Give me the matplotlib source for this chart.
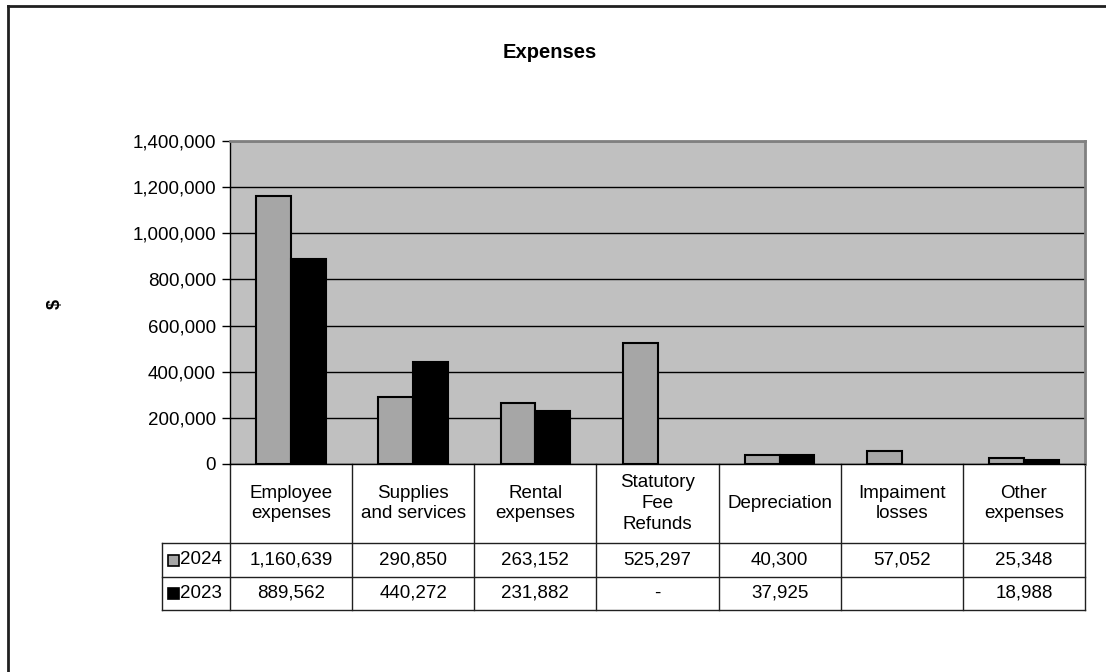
import numpy as np
import matplotlib
matplotlib.use("Agg")
import matplotlib.pyplot as plt
from matplotlib.patches import Rectangle
from matplotlib.lines import Line2D
from matplotlib.transforms import blended_transform_factory
from matplotlib.ticker import FuncFormatter

plt.rcParams['font.family'] = ['Liberation Sans', 'DejaVu Sans']

categories = ["Employee\nexpenses", "Supplies\nand services", "Rental\nexpenses",
              "Statutory\nFee\nRefunds", "Depreciation", "Impaiment\nlosses", "Other\nexpenses"]
series_names = ["2024", "2023"]
values_2024 = [1160639, 290850, 263152, 525297, 40300, 57052, 25348]
values_2023 = [889562, 440272, 231882, 0, 37925, np.nan, 18988]
yticks = [0, 200000, 400000, 600000, 800000, 1000000, 1200000, 1400000]
title = "Expenses"
ylabel = "$"

W, H = 1106, 672
fig = plt.figure(figsize=(W / 100, H / 100), dpi=100)
fig.patch.set_facecolor('white')

L, R, T, B = 230, 1085, 141, 464
ax = fig.add_axes([L / W, 1 - B / H, (R - L) / W, (B - T) / H])
ax.set_facecolor('#C0C0C0')
ax.set_axisbelow(True)

x = np.arange(len(categories))
bw = 0.285
c2024 = '#A6A6A6'
c2023 = '#000000'
b1 = ax.bar(x - bw / 2, values_2024, bw, color=c2024, edgecolor='black', linewidth=1.5, zorder=3)
b2 = ax.bar(x + bw / 2, values_2023, bw, color=c2023, edgecolor='black', linewidth=1.5, zorder=3)
for p in list(b1.patches) + list(b2.patches):
    h = p.get_height()
    if not np.isfinite(h) or h == 0:
        p.set_visible(False)

ax.set_xlim(-0.5, len(categories) - 0.5)
ax.set_ylim(0, 1400000)
ax.set_yticks(yticks)
ax.yaxis.set_major_formatter(FuncFormatter(lambda v, p: f"{int(v):,}"))
ax.tick_params(axis='y', length=6, width=1, pad=4, labelsize=13.5, colors='black')
ax.set_xticks([])
ax.grid(axis='y', color='black', linewidth=1, zorder=1)
for s in ['top', 'right']:
    ax.spines[s].set_color('#808080')
    ax.spines[s].set_linewidth(2)
ax.spines['left'].set_color('black')
ax.spines['left'].set_linewidth(1)
ax.spines['bottom'].set_color('black')
ax.spines['bottom'].set_linewidth(1)

# Title and y label
fig.text(550 / W, 1 - 52 / H, title, ha='center', va='center', fontsize=14.5, fontweight='bold')
fig.text(55 / W, 1 - 304 / H, ylabel, ha='center', va='center', fontsize=13, fontweight='bold', rotation=90)

# Outer border (left and top)
fig.add_artist(Line2D([8 / W, 8 / W], [0, 1 - 6 / H], color='#202020', lw=2, transform=fig.transFigure))
fig.add_artist(Line2D([8 / W, 1], [1 - 6 / H, 1 - 6 / H], color='#202020', lw=2, transform=fig.transFigure))

# Data table
tr = blended_transform_factory(ax.transData, fig.transFigure)
def fy(py):
    return 1 - py / H

y_head_top, y_head_bot, y_r1_bot, y_r2_bot = 464, 543, 577, 610
lc = '#202020'
n = len(categories)
for i in range(n + 1):
    xb = i - 0.5
    ax.add_line(Line2D([xb, xb], [fy(y_head_top), fy(y_r2_bot)], color=lc, lw=1,
                       transform=tr, clip_on=False))
leg_left = 162
for py in [y_head_bot, y_r1_bot, y_r2_bot]:
    fig.add_artist(Line2D([leg_left / W, R / W], [fy(py), fy(py)], color=lc, lw=1,
                          transform=fig.transFigure))
fig.add_artist(Line2D([leg_left / W, leg_left / W], [fy(y_head_bot), fy(y_r2_bot)], color=lc, lw=1,
                      transform=fig.transFigure))

def fmt(v):
    if v is None or (isinstance(v, float) and np.isnan(v)):
        return ""
    if v == 0:
        return "-"
    return f"{int(v):,}"

for i, cat in enumerate(categories):
    ax.text(i, fy((y_head_top + y_head_bot) / 2), cat, transform=tr, ha='center', va='center',
            fontsize=13.5, linespacing=1.3, clip_on=False)
    ax.text(i, fy((y_head_bot + y_r1_bot) / 2), fmt(values_2024[i]), transform=tr,
            ha='center', va='center', fontsize=13.5, clip_on=False)
    ax.text(i, fy((y_r1_bot + y_r2_bot) / 2), fmt(values_2023[i]), transform=tr,
            ha='center', va='center', fontsize=13.5, clip_on=False)

# Legend keys in table
for (name, col, top, bot) in [(series_names[0], c2024, y_head_bot, y_r1_bot),
                              (series_names[1], c2023, y_r1_bot, y_r2_bot)]:
    cy = (top + bot) / 2
    fig.add_artist(Rectangle((168 / W, fy(cy + 5.5)), 11 / W, 11 / H, facecolor=col,
                             edgecolor='black', lw=1.2, transform=fig.transFigure))
    fig.text(180 / W, fy(cy), name, ha='left', va='center', fontsize=13.5)

fig.savefig("out.png", dpi=100, facecolor='white')
